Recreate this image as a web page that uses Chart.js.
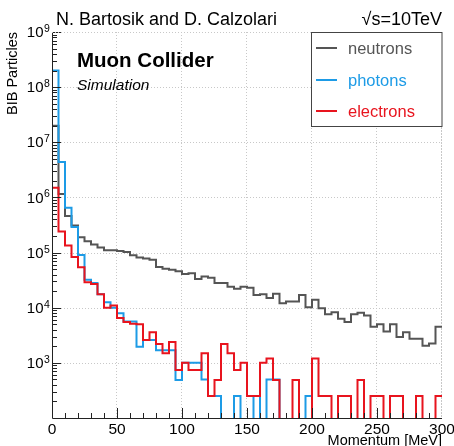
<!DOCTYPE html>
<html>
<head>
<meta charset="utf-8">
<script src="https://cdn.jsdelivr.net/npm/chart.js@4.4.1/dist/chart.umd.min.js"></script>
<style>
  html, body { margin: 0; padding: 0; background: #fff; }
  #wrap { width: 454px; height: 446px; }
</style>
</head>
<body>
<div id="wrap"><canvas id="chart" width="454" height="446"></canvas></div>
<script>
// histogram bin edges, MeV (5 MeV bins)
const binEdges = [0, 5, 10, 15, 20, 25, 30, 35, 40, 45, 50, 55, 60, 65, 70, 75, 80, 85, 90, 95,
  100, 105, 110, 115, 120, 125, 130, 135, 140, 145, 150, 155, 160, 165, 170, 175, 180, 185, 190, 195,
  200, 205, 210, 215, 220, 225, 230, 235, 240, 245, 250, 255, 260, 265, 270, 275, 280, 285, 290, 295, 300];

const neutrons = [2e7, 1.15e6, 4.6e5, 3.1e5, 1.9e5, 1.6e5, 1.4e5, 1.23e5, 1.1e5, 1.1e5,
  1.07e5, 1.02e5, 8.9e4, 8.1e4, 7.8e4, 7.4e4, 5.5e4, 5.1e4, 4.9e4, 4.6e4,
  4.1e4, 4.2e4, 3.3e4, 3.7e4, 3.5e4, 2.8e4, 2.8e4, 2.4e4, 2.2e4, 2.4e4,
  2.3e4, 1.7e4, 1.75e4, 1.5e4, 1.8e4, 1.2e4, 1.3e4, 1.3e4, 1.7e4, 1.02e4,
  1.4e4, 9.8e3, 7.6e3, 8.3e3, 6.3e3, 5.5e3, 7.6e3, 8.1e3, 7.2e3, 4.5e3,
  5.0e3, 3.7e3, 5.0e3, 2.95e3, 3.6e3, 2.75e3, 2.75e3, 2.05e3, 2.25e3, 4.5e3];

const photons = [2e8, 4.4e6, 6.5e5, 2.9e5, 9e4, 3.2e4, 2.8e4, 1.75e4, 1.25e4, 1e4,
  7.9e3, 5.6e3, 5.6e3, 1.95e3, 2.6e3, 2.6e3, 1.7e3, 1.7e3, 1.7e3, 490,
  1e3, 1e3, 1e3, 500, 250, 250, 0, 0, 250, 0,
  0, 250, 0, 500, 500, 0, 0, 0, 0, 250,
  0, 0, 0, 0, 0, 0, 0, 0, 0, 0,
  0, 0, 0, 0, 0, 0, 0, 0, 0, 0];

const electrons = [1.5e6, 2.4e5, 1.35e5, 8.3e4, 5.4e4, 2.9e4, 2.7e4, 1.75e4, 1e4, 1.1e4,
  6.5e3, 5.5e3, 5.1e3, 5e3, 2.6e3, 3.6e3, 2.2e3, 1.5e3, 2.4e3, 740,
  1e3, 740, 740, 1.5e3, 250, 490, 2.2e3, 1.5e3, 740, 1e3,
  250, 250, 1e3, 1.2e3, 490, 0, 0, 490, 0, 0,
  1.2e3, 250, 250, 0, 250, 250, 0, 490, 0, 250,
  250, 0, 250, 250, 0, 0, 250, 0, 0, 250];

const seriesNames = ['neutrons', 'photons', 'electrons'];
const seriesColors = ['#555555', '#1d9be6', '#e8141e'];
const xTickLabels = [0, 50, 100, 150, 200, 250, 300];
const yDecades = [3, 4, 5, 6, 7, 8, 9];

const FONT = '"Liberation Sans", Arial, Helvetica, sans-serif';
const EMPTY = 1; // empty bins fall below the axis and get clipped

function histPoints(values) {
  const pts = values.map((v, i) => ({ x: binEdges[i], y: v > 0 ? v : EMPTY }));
  pts.push({ x: binEdges[values.length], y: pts[pts.length - 1].y });
  return pts;
}

const decor = {
  id: 'decor',
  beforeDatasetsDraw(chart) {
    const { ctx, chartArea: a, scales: { x, y } } = chart;
    ctx.save();
    ctx.strokeStyle = '#c8c8c8';
    ctx.lineWidth = 1;
    ctx.setLineDash([1, 2]);
    xTickLabels.forEach(v => {
      if (v === 0) return;
      const px = Math.round(x.getPixelForValue(v)) - 0.5;
      ctx.beginPath(); ctx.moveTo(px, a.top); ctx.lineTo(px, a.bottom); ctx.stroke();
    });
    yDecades.forEach(d => {
      const py = Math.round(y.getPixelForValue(Math.pow(10, d))) + 0.5;
      ctx.beginPath(); ctx.moveTo(a.left, py); ctx.lineTo(a.right, py); ctx.stroke();
    });
    ctx.restore();
  },
  afterDraw(chart) {
    const { ctx, chartArea: a, scales: { x, y } } = chart;
    ctx.save();
    ctx.strokeStyle = '#222';
    ctx.lineWidth = 1;

    // axes
    ctx.beginPath();
    ctx.moveTo(a.left + 0.5, a.top); ctx.lineTo(a.left + 0.5, a.bottom + 0.5);
    ctx.lineTo(a.right, a.bottom + 0.5);
    ctx.stroke();

    // x ticks every 10 MeV, big ones every 50
    for (let v = 10; v < 300; v += 10) {
      const px = Math.round(x.getPixelForValue(v)) + 0.5;
      const len = v % 50 === 0 ? 10 : 5;
      ctx.beginPath(); ctx.moveTo(px, a.bottom); ctx.lineTo(px, a.bottom - len); ctx.stroke();
    }
    // y ticks, decades and 2..9
    for (let d = 2; d <= 9; d++) {
      for (let k = 1; k <= 9; k++) {
        const v = k * Math.pow(10, d);
        if (v <= 100 || v > 1e9) continue;
        const py = Math.round(y.getPixelForValue(v)) + 0.5;
        const len = k === 1 ? 9 : 5;
        ctx.beginPath(); ctx.moveTo(a.left, py); ctx.lineTo(a.left + len, py); ctx.stroke();
      }
    }

    ctx.fillStyle = '#000';
    // x tick labels
    ctx.font = '15.5px ' + FONT;
    ctx.textAlign = 'center';
    ctx.textBaseline = 'alphabetic';
    xTickLabels.forEach(v => ctx.fillText(String(v), x.getPixelForValue(v), 434));

    // y tick labels 10^n
    yDecades.forEach(d => {
      const py = y.getPixelForValue(Math.pow(10, d));
      ctx.font = '15px ' + FONT;
      ctx.textAlign = 'right';
      ctx.textBaseline = 'middle';
      ctx.fillText('10', 43.5, py + 1);
      ctx.font = '10.5px ' + FONT;
      ctx.textAlign = 'left';
      ctx.textBaseline = 'alphabetic';
      ctx.fillText(String(d), 44, py);
    });

    // axis titles
    ctx.font = '14.5px ' + FONT;
    ctx.textAlign = 'right';
    ctx.fillText('Momentum [MeV]', a.right, 445);
    ctx.save();
    ctx.translate(17, a.top);
    ctx.rotate(-Math.PI / 2);
    ctx.textAlign = 'right';
    ctx.fillText('BIB Particles', 0, 0);
    ctx.restore();

    // header texts
    ctx.font = '18px ' + FONT;
    ctx.textAlign = 'left';
    ctx.fillText('N. Bartosik and D. Calzolari', 56, 25);
    ctx.textAlign = 'right';
    ctx.fillText('\u221As=10TeV', a.right, 25);

    ctx.textAlign = 'left';
    ctx.font = 'bold 20.5px ' + FONT;
    ctx.fillText('Muon Collider', 77, 67);
    ctx.font = 'italic 15.5px ' + FONT;
    ctx.fillText('Simulation', 77, 90);

    // legend box
    ctx.fillStyle = '#fff';
    ctx.fillRect(311, 32, a.right - 311, 95);
    ctx.strokeStyle = '#444';
    ctx.strokeRect(311.5, 32.5, a.right - 311.5, 94);
    const rowY = [48, 80, 111];
    ctx.font = '16.5px ' + FONT;
    ctx.textBaseline = 'middle';
    seriesNames.forEach((name, i) => {
      ctx.strokeStyle = seriesColors[i];
      ctx.lineWidth = 2;
      ctx.beginPath(); ctx.moveTo(316, rowY[i]); ctx.lineTo(337, rowY[i]); ctx.stroke();
      ctx.fillStyle = seriesColors[i];
      ctx.fillText(name, 348, rowY[i] + 1);
    });

    // top / right edges are just dotted grid lines in the original
    ctx.strokeStyle = '#c8c8c8';
    ctx.lineWidth = 1;
    ctx.setLineDash([1, 2]);
    ctx.beginPath(); ctx.moveTo(a.left, a.top + 0.5); ctx.lineTo(311, a.top + 0.5); ctx.stroke();
    ctx.beginPath(); ctx.moveTo(a.right - 0.5, 127); ctx.lineTo(a.right - 0.5, a.bottom); ctx.stroke();
    ctx.restore();
  }
};

const seriesData = [neutrons, photons, electrons];

new Chart(document.getElementById('chart'), {
  type: 'line',
  data: {
    datasets: seriesNames.map((name, i) => ({
      label: name,
      data: histPoints(seriesData[i]),
      borderColor: seriesColors[i],
      borderWidth: 2,
      stepped: true,
      pointRadius: 0,
      fill: false,
      order: 3 - i
    }))
  },
  options: {
    responsive: false,
    animation: false,
    layout: { padding: { left: 52, top: 32, right: 12, bottom: 28 } },
    plugins: { legend: { display: false }, tooltip: { enabled: false } },
    scales: {
      x: { type: 'linear', min: 0, max: 300, display: false },
      y: { type: 'logarithmic', min: 100, max: 1e9, display: false }
    }
  },
  plugins: [decor]
});
</script>
</body>
</html>
